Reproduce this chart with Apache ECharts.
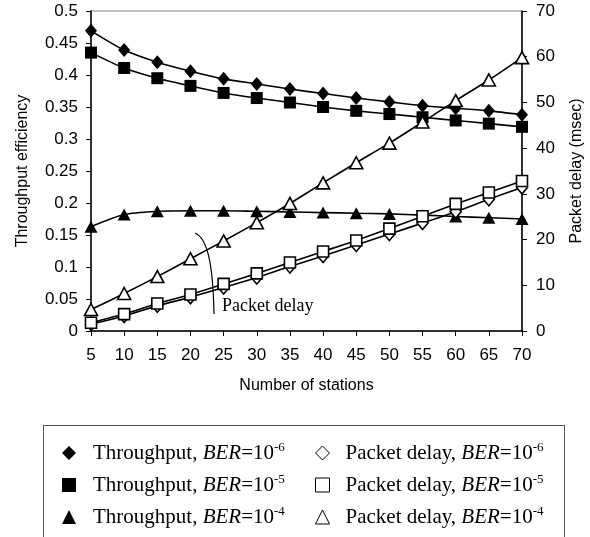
<!DOCTYPE html>
<html>
<head>
<meta charset="utf-8">
<script src="https://cdn.jsdelivr.net/npm/echarts@6/dist/echarts.min.js"></script>
<style>
  html, body { margin: 0; padding: 0; background: #fff; }
  #chart { width: 590px; height: 537px; }
</style>
</head>
<body>
<div id="chart"></div>
<script>
// number of stations
var stations = ['5', '10', '15', '20', '25', '30', '35', '40', '45', '50', '55', '60', '65', '70']
// throughput efficiency (left axis)
var thrBer6 = [0.469, 0.439, 0.420, 0.406, 0.394, 0.386, 0.378, 0.371, 0.364, 0.358, 0.352, 0.348, 0.344, 0.338]
var thrBer5 = [0.435, 0.411, 0.395, 0.383, 0.372, 0.364, 0.357, 0.350, 0.344, 0.339, 0.334, 0.329, 0.324, 0.319]
var thrBer4 = [0.163, 0.182, 0.187, 0.188, 0.188, 0.187, 0.186, 0.185, 0.184, 0.183, 0.181, 0.179, 0.177, 0.175]
// packet delay in msec (right axis)
var delBer6 = [1.5, 3.3, 5.5, 7.4, 9.5, 11.7, 14.1, 16.4, 18.8, 21.2, 23.6, 26.1, 28.8, 31.4]
var delBer5 = [1.8, 3.7, 6.0, 8.0, 10.3, 12.6, 15.0, 17.4, 19.8, 22.4, 25.1, 27.8, 30.3, 32.8]
var delBer4 = [4.7, 8.2, 11.9, 15.8, 19.7, 23.7, 27.9, 32.4, 36.8, 41.1, 45.7, 50.4, 54.9, 59.8]
// legend exponents
var berExp = ['-6', '-5', '-4']

var sansFont = '"Liberation Sans", Arial, sans-serif'
var serifFont = '"Liberation Serif", "Times New Roman", serif'

var myChart = echarts.init(document.getElementById('chart'), null, { renderer: 'canvas' })

function mkSeries (name, data, axis, symbol, size, filled) {
  return {
    name: name,
    type: 'line',
    yAxisIndex: axis,
    data: data,
    smooth: 0.25,
    symbol: symbol,
    symbolSize: size,
    showAllSymbol: true,
    lineStyle: { color: '#000', width: 1.6 },
    itemStyle: filled
      ? { color: '#000', borderColor: '#000', borderWidth: 0 }
      : { color: '#fff', borderColor: '#000', borderWidth: 1.6 },
    emphasis: { disabled: true },
    z: filled ? 3 : 4
  }
}

var names = [
  'Throughput, BER=10' + berExp[0], 'Throughput, BER=10' + berExp[1], 'Throughput, BER=10' + berExp[2],
  'Packet delay, BER=10' + berExp[0], 'Packet delay, BER=10' + berExp[1], 'Packet delay, BER=10' + berExp[2]
]

function legendFmt (name) {
  var m = name.match(/^(.*), BER=10(.*)$/)
  return '{n|' + m[1] + ', }{i|BER}{n|=10}{s|' + m[2] + '}'
}

var richText = {
  n: { fontFamily: serifFont, fontSize: 21, color: '#000', lineHeight: 24 },
  i: { fontFamily: serifFont, fontSize: 21, fontStyle: 'italic', color: '#000', lineHeight: 24 },
  s: { fontFamily: serifFont, fontSize: 13, color: '#000', verticalAlign: 'top', lineHeight: 24, padding: [0, 0, 10, 0] }
}

function mkLegend (left, pad, list, hollow) {
  return {
    orient: 'vertical',
    left: left,
    top: 436,
    itemWidth: 14,
    itemHeight: 14,
    itemGap: 9,
    selectedMode: false,
    formatter: legendFmt,
    itemStyle: hollow
      ? { color: '#fff', borderColor: '#000', borderWidth: 1 }
      : { color: '#000', borderWidth: 0 },
    textStyle: { padding: [0, 0, 0, pad], rich: richText },
    data: list
  }
}

var option = {
  backgroundColor: '#fff',
  animation: false,
  grid: {
    left: 91,
    right: 68,
    top: 11,
    bottom: 206,
    outerBoundsMode: 'none',
    show: true,
    borderColor: '#888',
    borderWidth: 1,
    backgroundColor: 'transparent'
  },
  legend: [
    mkLegend(57, 12, [
      { name: names[0], icon: 'diamond' },
      { name: names[1], icon: 'rect' },
      { name: names[2], icon: 'triangle' }
    ], false),
    mkLegend(310, 11, [
      { name: names[3], icon: 'diamond' },
      { name: names[4], icon: 'rect' },
      { name: names[5], icon: 'triangle' }
    ], true)
  ],
  xAxis: {
    type: 'category',
    boundaryGap: false,
    data: stations,
    name: 'Number of stations',
    nameLocation: 'middle',
    nameGap: 47,
    nameTextStyle: { fontFamily: sansFont, fontSize: 16, color: '#000' },
    axisLine: { lineStyle: { color: '#000', width: 1.5 } },
    axisTick: { show: true, length: 5, alignWithLabel: true, lineStyle: { color: '#000' } },
    axisLabel: { margin: 16, fontFamily: sansFont, fontSize: 17, color: '#000' },
    splitLine: { show: false }
  },
  yAxis: [
    {
      type: 'value',
      min: 0,
      max: 0.5,
      interval: 0.05,
      name: 'Throughput efficiency',
      nameLocation: 'middle',
      nameGap: 60,
      nameTextStyle: { fontFamily: sansFont, fontSize: 16, color: '#000' },
      axisLine: { show: true, lineStyle: { color: '#000', width: 1.5 } },
      axisTick: { show: true, length: 5, lineStyle: { color: '#000' } },
      axisLabel: { margin: 13, fontFamily: sansFont, fontSize: 17, color: '#000' },
      splitLine: { show: false }
    },
    {
      type: 'value',
      min: 0,
      max: 70,
      interval: 10,
      position: 'right',
      name: 'Packet delay (msec)',
      nameLocation: 'middle',
      nameGap: 47,
      nameRotate: 90,
      nameTextStyle: { fontFamily: sansFont, fontSize: 16, color: '#000' },
      axisLine: { show: true, lineStyle: { color: '#000', width: 1.5 } },
      axisTick: { show: true, length: 5, lineStyle: { color: '#000' } },
      axisLabel: { margin: 14, fontFamily: sansFont, fontSize: 17, color: '#000' },
      splitLine: { show: false }
    }
  ],
  series: [
    mkSeries(names[0], thrBer6, 0, 'diamond', [12, 14], true),
    mkSeries(names[1], thrBer5, 0, 'rect', 12, true),
    mkSeries(names[2], thrBer4, 0, 'triangle', [13, 12], true),
    mkSeries(names[3], delBer6, 1, 'diamond', [11, 13], false),
    mkSeries(names[4], delBer5, 1, 'rect', 11, false),
    mkSeries(names[5], delBer4, 1, 'triangle', [13, 12], false)
  ],
  graphic: [
    // legend frame
    {
      type: 'rect',
      shape: { x: 43.5, y: 425.5, width: 521, height: 120 },
      style: { fill: 'none', stroke: '#555', lineWidth: 1 },
      silent: true
    },
    // packet delay pointer
    {
      type: 'bezierCurve',
      shape: { x1: 195, y1: 233, cpx1: 207, cpy1: 238, cpx2: 213, cpy2: 262, x2: 214, y2: 314 },
      style: { fill: 'none', stroke: '#000', lineWidth: 1.2 },
      silent: true
    },
    {
      type: 'text',
      left: 222,
      top: 297,
      style: { text: 'Packet delay', font: '18px ' + serifFont, fill: '#000' },
      silent: true
    }
  ]
}

myChart.setOption(option, true)
</script>
</body>
</html>
